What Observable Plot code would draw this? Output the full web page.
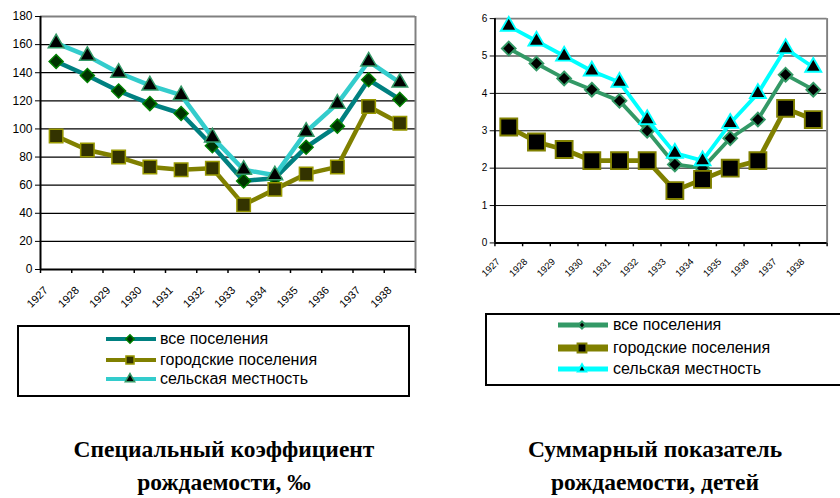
<!DOCTYPE html>
<html><head><meta charset="utf-8">
<script src="https://cdn.jsdelivr.net/npm/d3@7"></script>
<script src="https://cdn.jsdelivr.net/npm/@observablehq/plot@0.6"></script>
<style>
html,body{margin:0;padding:0;background:#fff}
body{width:840px;height:498px;overflow:hidden;position:relative;font-family:Arial,"Liberation Sans",sans-serif}
.abs{position:absolute}
.legend{position:absolute;border:2px solid #000;box-sizing:border-box;background:#fff}
.lrow{position:absolute;display:flex;align-items:center;font-size:16px;color:#000;white-space:nowrap}
</style></head><body>
<div id="c1" class="abs" style="left:0;top:0"></div>
<div id="c2" class="abs" style="left:420px;top:0"></div>
<div id="lg1" class="legend" style="left:17px;top:325px;width:393px;height:72px"></div>
<div id="lg2" class="legend" style="left:485px;top:313px;width:380px;height:73px"></div>
<svg id="cap" class="abs" style="left:0;top:0" width="840" height="498"></svg>
<script>
// ---- data ----
const years = [1927,1928,1929,1930,1931,1932,1933,1934,1935,1936,1937,1938];
const seriesNames = ["все поселения","городские поселения","сельская местность"];
// Специальный коэффициент рождаемости, ‰
const gfrAll   = [148,138,127,118,111,88,63,65,87,102,135,121];
const gfrUrban = [95,85,80,73,71,72,46,57,68,73,116,104];
const gfrRural = [161,152,140,131,124,94,71,67,98,118,148,133];
// Суммарный показатель рождаемости, детей
const tfrAll   = [5.2,4.8,4.4,4.1,3.8,3.0,2.1,2.0,2.8,3.3,4.5,4.1];
const tfrUrban = [3.1,2.7,2.5,2.2,2.2,2.2,1.4,1.7,2.0,2.2,3.6,3.3];
const tfrRural = [5.8,5.4,5.0,4.6,4.3,3.3,2.4,2.2,3.2,4.0,5.2,4.7];
const yTicksLeft  = [0,20,40,60,80,100,120,140,160,180];
const yTicksRight = [0,1,2,3,4,5,6];
const captionLeft  = ["Специальный коэффициент","рождаемости, ‰"];
const captionRight = ["Суммарный показатель","рождаемости, детей"];

const bounds = d3.range(years.length + 1).map(i => years[0] - 0.5 + i);

function makeChart(o) {
  const marks = [
    Plot.ruleY(o.yTicks.slice(1, -1), {stroke: "#000", strokeWidth: o.gridW}),
    Plot.ruleY([o.yTicks[o.yTicks.length - 1]], {stroke: "#808080", strokeWidth: 2}),
    Plot.ruleX([bounds[bounds.length - 1]], {stroke: "#808080", strokeWidth: 2}),
    Plot.axisY({ticks: o.yTicks, tickSize: 5, tickPadding: 3, fontSize: o.yFont, label: null, tickFormat: d => String(d)}),
    Plot.axisX({ticks: bounds, tickSize: 4, label: null, tickFormat: () => "", strokeWidth: 1.5}),
    Plot.text(years, {x: d => d, frameAnchor: "bottom", text: d => String(d), rotate: -45,
      textAnchor: "end", lineAnchor: "middle", dx: o.xDx, dy: o.xDy, fontSize: o.xFont, fill: "#000"}),
    Plot.ruleX([bounds[0]], {stroke: "#000", strokeWidth: 2}),
    Plot.ruleY([0], {stroke: "#000", strokeWidth: 2})
  ];
  o.series.forEach((s, k) => {
    const rows = years.map((yr, i) => ({year: yr, v: s.values[i], name: seriesNames[k]}));
    marks.push(Plot.line(rows, {x: "year", y: "v", stroke: s.line, strokeWidth: s.lw}));
    marks.push(Plot.dot(rows, {x: "year", y: "v", symbol: s.symbol, r: s.r, fill: s.fill, stroke: s.mstroke, strokeWidth: s.msw}));
  });
  return Plot.plot({
    width: o.width, height: o.height,
    marginLeft: o.ml, marginRight: o.mr, marginTop: o.mt, marginBottom: o.mb,
    style: {fontFamily: "Arial, 'Liberation Sans', sans-serif", color: "#000", background: "transparent", overflow: "visible"},
    x: {type: "linear", domain: [bounds[0], bounds[bounds.length - 1]], axis: null},
    y: {domain: [o.yTicks[0], o.yTicks[o.yTicks.length - 1]], axis: null},
    marks
  });
}

const leftStyles = [
  {line: "#008080", lw: 4.5, symbol: "diamond2", r: 6.3, fill: "#003300", mstroke: "#008000", msw: 1.5},
  {line: "#808000", lw: 4.5, symbol: "square", r: 7.6, fill: "#333300", mstroke: "#999900", msw: 1.5},
  {line: "#33CCCC", lw: 4.5, symbol: "triangle", r: 5.8, fill: "#000", mstroke: "#339966", msw: 1.5}
];
const rightStyles = [
  {line: "#339966", lw: 4, symbol: "diamond2", r: 6.5, fill: "#000", mstroke: "#339966", msw: 2},
  {line: "#808000", lw: 5, symbol: "square", r: 10, fill: "#000", mstroke: "#808000", msw: 2},
  {line: "#00FFFF", lw: 4, symbol: "triangle", r: 6.2, fill: "#000", mstroke: "#00FFFF", msw: 2}
];

document.getElementById("c1").append(makeChart({
  width: 420, height: 320, ml: 40, mr: 5, mt: 16, mb: 51,
  yTicks: yTicksLeft, gridW: 1.3, yFont: 12, xFont: 11, xDx: -10, xDy: 19,
  series: [gfrAll, gfrUrban, gfrRural].map((v, i) => ({values: v, ...leftStyles[i]}))
}));
document.getElementById("c2").append(makeChart({
  width: 440, height: 300, ml: 78, mr: 14, mt: 19, mb: 46,
  yTicks: yTicksRight, gridW: 1, yFont: 10.5, xFont: 10, xDx: -11, xDy: 18,
  series: [tfrAll, tfrUrban, tfrRural].map((v, i) => ({values: v, ...rightStyles[i]}))
}));

// ---- legends ----
function legend(id, styles, rowsY, top, swX, textX, left, swLw, mScale) {
  const box = document.getElementById(id);
  styles.forEach((s, k) => {
    const row = document.createElement("div");
    row.className = "lrow";
    row.style.left = (swX - left - 2) + "px";
    row.style.top = (rowsY[k] - top - 2 - 10) + "px";
    row.style.height = "20px";
    const w = 50;
    const svg = d3.create("svg").attr("width", w).attr("height", 20).style("margin-right", (textX - swX - w) + "px");
    svg.append("line").attr("x1", 0).attr("x2", w).attr("y1", 10).attr("y2", 10)
      .attr("stroke", s.line).attr("stroke-width", swLw[k]);
    const symMap = {diamond2: d3.symbolDiamond2, square: d3.symbolSquare, triangle: d3.symbolTriangle};
    svg.append("path").attr("transform", `translate(${w / 2 - 1},10)`)
      .attr("d", d3.symbol(symMap[s.symbol], Math.PI * (s.r * mScale) ** 2)())
      .attr("fill", s.fill).attr("stroke", s.mstroke).attr("stroke-width", s.msw);
    row.append(svg.node());
    const t = document.createElement("span");
    t.textContent = seriesNames[k];
    row.append(t);
    box.append(row);
  });
}
legend("lg1", leftStyles, [339, 360, 379], 325, 106, 160, 17, [4, 4, 4], 0.6);
legend("lg2", rightStyles, [325, 348, 369], 313, 558, 613, 485, [5, 7, 5], 0.5);

// ---- captions ----
const cap = d3.select("#cap");
function caption(lines, cx) {
  lines.forEach((t, i) => {
    cap.append("text").attr("x", cx).attr("y", 457 + i * 33)
      .attr("text-anchor", "middle")
      .attr("font-family", "'Liberation Serif','Times New Roman',serif")
      .attr("font-weight", "bold").attr("font-size", 23.5).text(t);
  });
}
caption(captionLeft, 224);
caption(captionRight, 655);
</script>
</body></html>
